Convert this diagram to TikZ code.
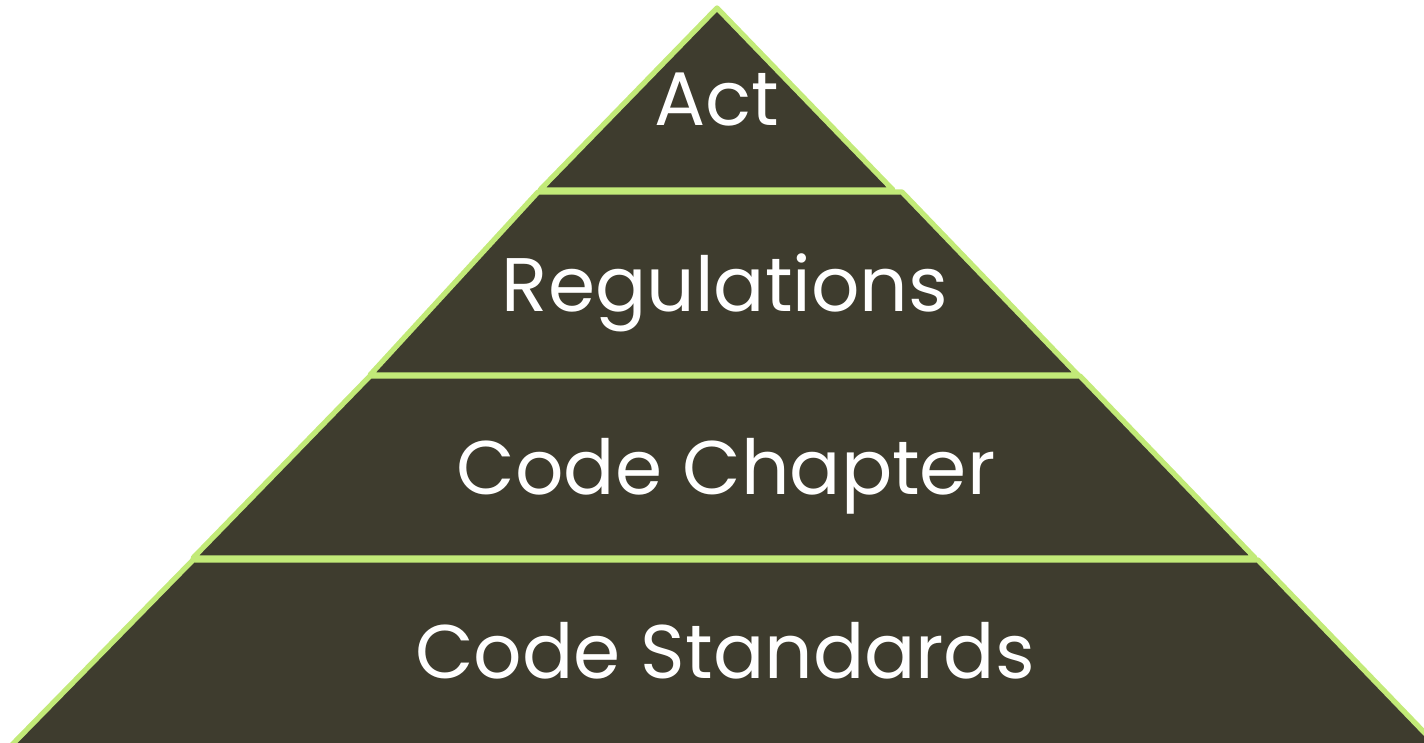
\documentclass[tikz,border=0pt]{standalone}
\usepackage{fontspec}
\setmainfont{Poppins}
\usepackage{xcolor}
\definecolor{layerfill}{RGB}{62,60,46}
\definecolor{layerline}{RGB}{194,234,120}
\tikzset{
  layer/.style={fill=layerfill, draw=layerline, line width=1.5pt, line join=round},
  layertext/.style={text=white, font=\fontsize{21.6}{26}\selectfont, inner sep=0pt, anchor=base}
}

\begin{document}
\begin{tikzpicture}
    % Page frame
    \useasboundingbox (0,0) rectangle (14.24,7.42);
    \clip (0,0) rectangle (14.24,7.42);

    % Pyramid layers, top to bottom
    \filldraw[layer] (7.17,7.34) -- (5.40,5.52) -- (8.93,5.52) -- cycle;
    \filldraw[layer] (5.38,5.50) -- (9.02,5.50) -- (10.78,3.67) -- (3.70,3.67) -- cycle;
    \filldraw[layer] (3.70,3.66) -- (10.80,3.66) -- (12.55,1.84) -- (1.93,1.84) -- cycle;
    \filldraw[layer] (1.93,1.82) -- (12.58,1.82) -- (14.45,-0.12) -- (0.03,-0.12) -- cycle;

    % Labels (placed on their baselines)
    \node[layertext] (act) at (7.17,6.16) {Act};
    \node[layertext] (regs) at (7.25,4.30) {Regulations};
    \node[layertext] (chapter) at (7.26,2.47) {Code Chapter};
    \node[layertext] (standards) at (7.25,0.64) {Code Standards};
\end{tikzpicture}
\end{document}
